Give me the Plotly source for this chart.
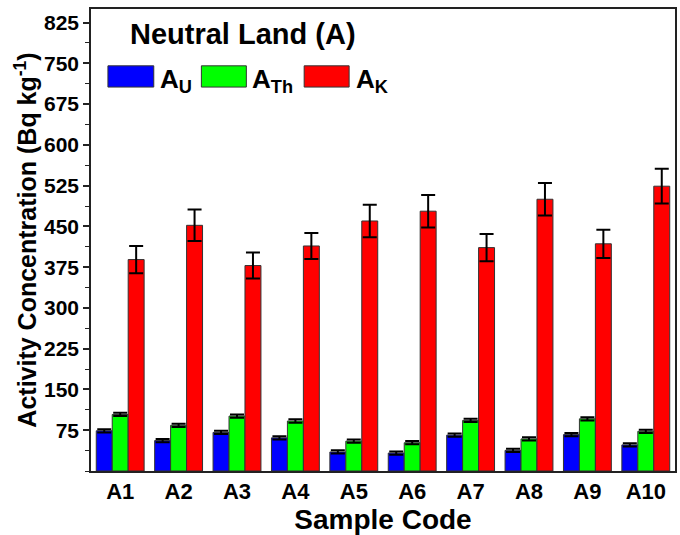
import plotly.graph_objects as go

samples = ["A1", "A2", "A3", "A4", "A5", "A6", "A7", "A8", "A9", "A10"]
a_u = [74, 56, 71, 61, 35, 33, 66, 38, 67, 48]
a_th = [104, 84, 101, 92, 55, 52, 93, 59, 96, 73]
a_k = [389, 452, 378, 414, 460, 478, 411, 500, 418, 524]
err_u = [3, 3, 3, 3, 3, 3, 3, 3, 3, 3]
err_th = [3, 3, 3, 3, 3, 3, 3, 3, 3, 3]
err_k = [25, 29, 24, 24, 30, 30, 25, 30, 26, 32]
y_ticks = [75, 150, 225, 300, 375, 450, 525, 600, 675, 750, 825]

FONT = "Liberation Sans, Arial, sans-serif"
fig = go.Figure()
for vals, errs, col in [(a_u, err_u, "#0000ff"), (a_th, err_th, "#00ff00"), (a_k, err_k, "#ff0000")]:
    fig.add_trace(go.Bar(
        x=samples, y=vals, marker=dict(color=col, line=dict(color="#333333", width=1)),
        error_y=dict(type="data", array=errs, color="black", thickness=2, width=7),
        showlegend=False))

fig.update_layout(
    width=680, height=535, margin=dict(l=91, r=3, t=9, b=64),
    plot_bgcolor="white", paper_bgcolor="white",
    barmode="group", bargap=0.18, bargroupgap=0,
    font=dict(family=FONT, color="black"),
)
fig.update_xaxes(
    showline=True, linecolor="#222222", linewidth=1.5, mirror=True, ticks="",
    tickfont=dict(size=22, family=FONT, weight="bold"),
    title=dict(text="<b>Sample Code</b>", font=dict(size=28), standoff=2),
)
fig.update_yaxes(
    range=[0, 850], tickvals=y_ticks, showgrid=False, zeroline=False,
    showline=True, linecolor="#222222", linewidth=1.5, mirror=True,
    ticks="outside", ticklen=6, tickwidth=1.5, tickcolor="#222222",
    minor=dict(ticks="outside", ticklen=4, tickwidth=1, tickcolor="#222222", dtick=37.5, tick0=0),
    tickfont=dict(size=21, family=FONT, weight="bold"),
    title=dict(text="<b>Activity Concentration (Bq kg<sup>-1</sup>)</b>", font=dict(size=25), standoff=0),
)

fig.add_annotation(x=0.26, y=0.946, xref="paper", yref="paper", text="<b>Neutral Land (A)</b>",
                   showarrow=False, font=dict(size=29, family=FONT), xanchor="center", yanchor="middle")

legend_items = [("#0000ff", "A<sub>U</sub>", 0.029, 0.1075, 0.114),
                ("#00ff00", "A<sub>Th</sub>", 0.189, 0.266, 0.273),
                ("#ff0000", "A<sub>K</sub>", 0.365, 0.442, 0.450)]
for col, txt, x0, x1, tx in legend_items:
    fig.add_shape(type="rect", xref="paper", yref="paper", x0=x0, x1=x1, y0=0.831, y1=0.877,
                  fillcolor=col, line=dict(color="#333333", width=1))
    fig.add_annotation(x=tx, y=0.846, xref="paper", yref="paper", text="<b>" + txt + "</b>",
                       showarrow=False, font=dict(size=26, family=FONT), xanchor="left", yanchor="middle")

fig.write_html("out.html")
